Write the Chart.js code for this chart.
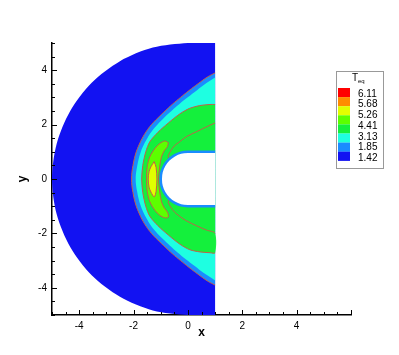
<!DOCTYPE html>
<html>
<head>
<meta charset="utf-8">
<script src="https://cdn.jsdelivr.net/npm/chart.js@4.4.1/dist/chart.umd.min.js"></script>
<style>
  html, body { margin: 0; padding: 0; background: #fff; }
  #wrap { position: relative; width: 399px; height: 355px; }
</style>
</head>
<body>
<div id="wrap"><canvas id="teq"></canvas></div>
<script>
// contour levels of T_eq, legend top to bottom
const levelLabels = ['6.11', '5.68', '5.26', '4.41', '3.13', '1.85', '1.42'];
const levelColors = ['#ff0000', '#ff8c00', '#e1ff00', '#5cff00', '#14f03c', '#1effe1', '#1a8cff', '#1212f2'];

const xLabels = [-4, -2, 0, 2, 4];
const yLabels = [-4, -2, 0, 2, 4];

// region outlines (x, y)
const domainPts = [[1, 5], [0, 5], [-1.29, 4.83], [-2.5, 4.33], [-3.54, 3.54], [-4.33, 2.5], [-4.83, 1.29], [-5, 0],
  [-4.83, -1.29], [-4.33, -2.5], [-3.54, -3.54], [-2.5, -4.33], [-1.29, -4.83], [0, -5], [1, -5]];

const shockPts = [[1, 3.9], [0.72, 3.75], [0.37, 3.5], [0.04, 3.25], [-0.27, 3.0], [-0.57, 2.75], [-0.84, 2.5],
  [-1.10, 2.25], [-1.34, 2.0], [-1.53, 1.75], [-1.68, 1.5], [-1.80, 1.25], [-1.90, 1.0], [-1.97, 0.75], [-2.02, 0.5],
  [-2.06, 0.25], [-2.07, 0], [-2.06, -0.25], [-2.02, -0.5], [-1.97, -0.75], [-1.90, -1.0], [-1.80, -1.25], [-1.68, -1.5],
  [-1.53, -1.75], [-1.34, -2.0], [-1.10, -2.25], [-0.84, -2.5], [-0.57, -2.75], [-0.27, -3.0], [0.04, -3.25],
  [0.37, -3.5], [0.72, -3.75], [1, -3.9]];

const cyanPts = [[1, 3.73], [0.57, 3.45], [0.25, 3.2], [-0.08, 2.95], [-0.38, 2.7], [-0.66, 2.45], [-0.93, 2.2],
  [-1.17, 1.95], [-1.37, 1.7], [-1.52, 1.45], [-1.65, 1.2], [-1.75, 0.95], [-1.82, 0.7], [-1.87, 0.45], [-1.91, 0.2],
  [-1.92, 0], [-1.91, -0.2], [-1.87, -0.45], [-1.82, -0.7], [-1.75, -0.95], [-1.65, -1.2], [-1.52, -1.45], [-1.37, -1.7],
  [-1.17, -1.95], [-0.93, -2.2], [-0.66, -2.45], [-0.38, -2.7], [-0.08, -2.95], [0.25, -3.2], [0.57, -3.45], [1, -3.73]];

const greenPts = [[1, 2.74], [0.81, 2.74], [0.44, 2.70], [0.07, 2.60], [-0.29, 2.40], [-0.72, 2.06], [-1.10, 1.72],
  [-1.40, 1.37], [-1.55, 1.0], [-1.66, 0.5], [-1.70, 0], [-1.66, -0.5], [-1.55, -1.0], [-1.40, -1.37], [-1.10, -1.72],
  [-0.72, -2.06], [-0.29, -2.40], [0.07, -2.60], [0.44, -2.68], [0.81, -2.71], [1, -2.71],
  [1, -2.0], [0.69, -1.88], [0.32, -1.72], [-0.05, -1.54], [-0.29, -1.38], [-0.54, -1.16], [-0.72, -0.80],
  [-0.3, -0.5], [-0.3, 0.5], [-0.72, 0.78], [-0.54, 1.17], [-0.29, 1.38], [-0.05, 1.56], [0.32, 1.74], [0.69, 1.92], [1, 2.06]];

const yellowGreenPts = [[-0.72, 1.34], [-0.85, 1.40], [-1.03, 1.31], [-1.21, 1.13], [-1.40, 0.82], [-1.50, 0.45], [-1.52, 0],
  [-1.50, -0.45], [-1.40, -0.84], [-1.21, -1.16], [-1.03, -1.34], [-0.85, -1.43], [-0.72, -1.40], [-0.75, -1.22],
  [-0.87, -1.06], [-0.97, -0.84], [-1.04, -0.45], [-1.08, 0], [-1.04, 0.45], [-0.97, 0.82], [-0.87, 1.04], [-0.75, 1.19],
  [-0.72, 1.34]];

const yellowPts = [[-1.24, 0.64], [-1.36, 0.45], [-1.43, 0.27], [-1.46, 0], [-1.43, -0.3], [-1.36, -0.48], [-1.24, -0.66],
  [-1.17, -0.45], [-1.14, 0], [-1.17, 0.42], [-1.24, 0.64]];

const bodyPts = [[1, 1], [0, 1], [-0.26, 0.97], [-0.5, 0.87], [-0.71, 0.71], [-0.87, 0.5], [-0.97, 0.26], [-1, 0],
  [-0.97, -0.26], [-0.87, -0.5], [-0.71, -0.71], [-0.5, -0.87], [-0.26, -0.97], [0, -1], [1, -1]];

const lineColor = '#c0604a';

function region(pts, fillColor, stroke, width, tension) {
  return {
    data: pts.map(p => ({x: p[0], y: p[1]})),
    showLine: true,
    fill: 'shape',
    backgroundColor: fillColor,
    borderColor: stroke,
    borderWidth: width,
    pointRadius: 0,
    tension: tension,
    segment: {
      // no contour line along the right cut at x = 1
      borderColor: ctx => (ctx.p0.parsed.x > 0.99 && ctx.p1.parsed.x > 0.99) ? 'rgba(0,0,0,0)' : stroke
    }
  };
}

const regions = [
  region(domainPts, levelColors[7], 'rgba(0,0,0,0)', 0, 0.3),
  region(shockPts, levelColors[6], lineColor, 1, 0.4),
  region(cyanPts, levelColors[5], 'rgba(0,0,0,0)', 0, 0.4),
  region(greenPts, levelColors[4], lineColor, 1, 0.3),
  region(yellowGreenPts, levelColors[3], lineColor, 1, 0.3),
  region(yellowPts, levelColors[2], lineColor, 1, 0.3),
  region(bodyPts, '#ffffff', levelColors[6], 2.5, 0.3)
];
// first in list goes at the bottom
regions.forEach((d, i) => { d.order = regions.length - i; });

// tick marks pointing into the plot
const innerTicks = {
  id: 'innerTicks',
  afterDraw(chart) {
    const {ctx} = chart;
    const sx = chart.scales.x, sy = chart.scales.y;
    ctx.save();
    ctx.strokeStyle = '#000';
    ctx.lineWidth = 1;
    ctx.beginPath();
    sx.ticks.forEach(t => {
      const px = Math.round(sx.getPixelForValue(t.value)) + 0.5;
      const len = t.value % 2 === 0 ? 5 : 3;
      ctx.moveTo(px, sx.top);
      ctx.lineTo(px, sx.top - len);
    });
    sy.ticks.forEach(t => {
      const py = Math.round(sy.getPixelForValue(t.value)) + 0.5;
      const len = t.value % 2 === 0 ? 5 : 3;
      ctx.moveTo(sy.right, py);
      ctx.lineTo(sy.right + len, py);
    });
    ctx.stroke();
    ctx.restore();
  }
};

// contour legend box
const contourLegend = {
  id: 'contourLegend',
  afterDraw(chart) {
    const {ctx} = chart;
    ctx.save();
    ctx.fillStyle = '#fff';
    ctx.fillRect(336, 71, 48, 98);
    ctx.strokeStyle = '#999';
    ctx.lineWidth = 1;
    ctx.strokeRect(336.5, 71.5, 47, 97);

    ctx.fillStyle = '#000';
    ctx.textBaseline = 'middle';
    ctx.font = '10px "Liberation Sans", Arial, sans-serif';
    ctx.fillText('T', 352, 78);
    ctx.font = '6px "Liberation Sans", Arial, sans-serif';
    ctx.fillText('eq', 358, 81);

    levelColors.forEach((c, i) => {
      ctx.fillStyle = c;
      ctx.fillRect(338, 88 + i * 9.1, 12, 9.2);
    });
    ctx.fillStyle = '#000';
    ctx.font = '10px "Liberation Sans", Arial, sans-serif';
    ctx.textAlign = 'left';
    levelLabels.forEach((s, i) => {
      ctx.fillText(s, 358, 94 + i * 10.7);
    });
    ctx.restore();
  }
};

const tickFont = {family: '"Liberation Sans", Arial, sans-serif', size: 10};
const titleFont = {family: '"Liberation Sans", Arial, sans-serif', size: 12, weight: 'bold'};

new Chart(document.getElementById('teq'), {
  type: 'scatter',
  data: {datasets: regions},
  options: {
    responsive: true,
    maintainAspectRatio: false,
    animation: false,
    events: [],
    layout: {padding: {left: 0, top: 43, right: 48, bottom: 0}},
    plugins: {legend: {display: false}, tooltip: {enabled: false}},
    scales: {
      x: {
        type: 'linear',
        min: -5,
        max: 6,
        grid: {display: false, drawTicks: false},
        border: {display: true, color: '#000', width: 1.5},
        ticks: {
          stepSize: 0.5,
          autoSkip: false,
          maxRotation: 0,
          padding: 5,
          color: '#000',
          font: tickFont,
          callback: v => xLabels.includes(v) ? String(v) : ''
        },
        title: {display: true, text: 'x', color: '#000', font: titleFont, padding: {top: 0, bottom: 15}},
        afterFit: s => { s.height = 40; }
      },
      y: {
        type: 'linear',
        min: -5,
        max: 5,
        grid: {display: false, drawTicks: false},
        border: {display: true, color: '#000', width: 1.5},
        ticks: {
          stepSize: 0.5,
          autoSkip: false,
          padding: 5,
          color: '#000',
          font: tickFont,
          callback: v => yLabels.includes(v) ? String(v) : ''
        },
        title: {display: true, text: 'y', color: '#000', font: titleFont, padding: {top: 15, bottom: 0}},
        afterFit: s => { s.width = 52; }
      }
    }
  },
  plugins: [innerTicks, contourLegend]
});
</script>
</body>
</html>
